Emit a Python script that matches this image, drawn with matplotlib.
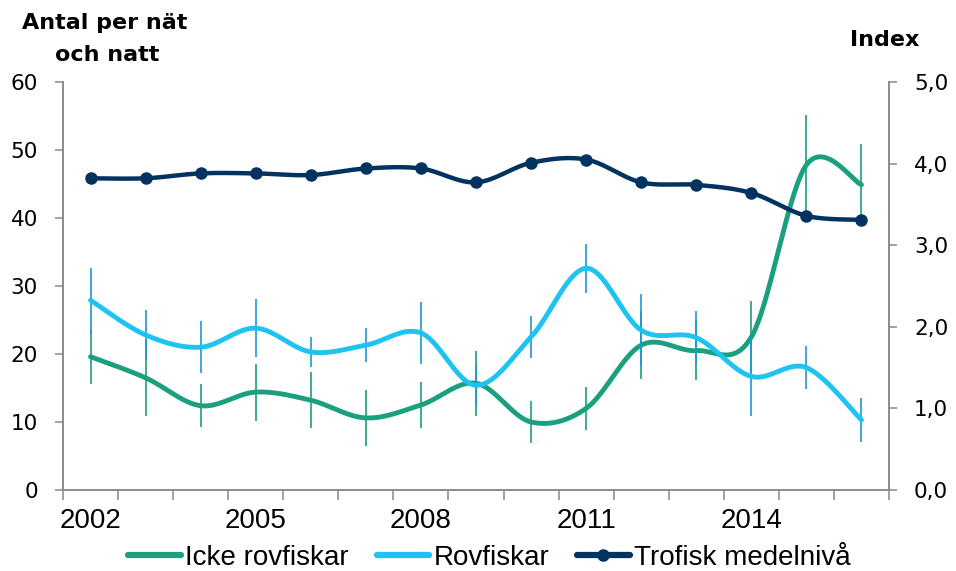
import matplotlib
matplotlib.use('Agg')
import matplotlib.pyplot as plt
from matplotlib.lines import Line2D
from matplotlib.ticker import FixedLocator, FuncFormatter
import numpy as np


# Data
years = [2002, 2003, 2004, 2005, 2006, 2007, 2008, 2009, 2010, 2011, 2012, 2013, 2014, 2015, 2016]
icke_rov = [19.6, 16.5, 12.4, 14.4, 13.2, 10.6, 12.5, 15.7, 10.0, 12.0, 21.3, 20.5, 22.5, 47.8, 44.9]
icke_rov_err = [4.0, 5.6, 3.2, 4.2, 4.1, 4.1, 3.4, 4.8, 3.1, 3.2, 5.0, 4.3, 5.3, 7.4, 6.0]
rov = [27.9, 22.8, 21.0, 23.8, 20.3, 21.3, 23.1, 15.4, 22.5, 32.6, 23.5, 22.4, 16.7, 18.0, 10.3]
rov_err = [4.8, 3.7, 3.8, 4.3, 2.2, 2.5, 4.5, 3.0, 3.1, 3.6, 5.3, 3.9, 5.8, 3.2, 3.2]
trofisk = [3.82, 3.82, 3.88, 3.88, 3.86, 3.94, 3.94, 3.77, 4.01, 4.05, 3.77, 3.74, 3.64, 3.36, 3.31]
year_labels = ['2002', '2005', '2008', '2011', '2014']

GREEN = '#1aa07f'
GREEN_ERR = '#1a9e80'
BLUE = '#1ec3f2'
BLUE_ERR = '#1a9ad6'
NAVY = '#00335f'
GREY = '#888888'


# Excel-liknande utjämnad linje (Catmull-Rom som Bezier)
def smooth(x, y, n=40):
    x = np.asarray(x, float)
    y = np.asarray(y, float)
    P = np.column_stack([x, y])
    P = np.vstack([P[0], P, P[-1]])
    xs, ys = [], []
    t = np.linspace(0, 1, n)
    for i in range(1, len(P) - 2):
        p0, p1, p2, p3 = P[i - 1], P[i], P[i + 1], P[i + 2]
        c1 = p1 + (p2 - p0) / 6
        c2 = p2 - (p3 - p1) / 6
        b = ((1 - t) ** 3)[:, None] * p1 + (3 * (1 - t) ** 2 * t)[:, None] * c1 \
            + (3 * (1 - t) * t ** 2)[:, None] * c2 + (t ** 3)[:, None] * p2
        xs.extend(b[:, 0])
        ys.extend(b[:, 1])
    return np.array(xs), np.array(ys)


fig = plt.figure(figsize=(9.56, 5.71), dpi=100)
ax = fig.add_axes([63 / 956, 1 - 490 / 571, (889 - 63) / 956, (490 - 82) / 571])
ax2 = ax.twinx()

xpos = np.arange(len(years))

# Icke rovfiskar
ax.errorbar(xpos, icke_rov, yerr=icke_rov_err, fmt='none', ecolor=GREEN_ERR, elinewidth=1.2, capsize=0, zorder=2)
sx, sy = smooth(xpos, icke_rov)
ax.plot(sx, sy, color=GREEN, lw=3.5, solid_capstyle='round', zorder=3)

# Rovfiskar
ax.errorbar(xpos, rov, yerr=rov_err, fmt='none', ecolor=BLUE_ERR, elinewidth=1.2, capsize=0, zorder=4)
sx, sy = smooth(xpos, rov)
ax.plot(sx, sy, color=BLUE, lw=3.5, solid_capstyle='round', zorder=5)

# Trofisk medelnivå (höger axel)
sx, sy = smooth(xpos, trofisk)
ax2.plot(sx, sy, color=NAVY, lw=3.2, solid_capstyle='round', zorder=3)
ax2.plot(xpos, trofisk, 'o', color=NAVY, ms=8, zorder=4)

ax.set_xlim(-0.5, len(years) - 0.5)
ax.set_ylim(0, 60)
ax2.set_ylim(0, 5)
ax.set_yticks(np.arange(0, 61, 10))
ax2.set_yticks(np.arange(0, 5.1, 1))
ax2.yaxis.set_major_formatter(FuncFormatter(lambda v, p: f'{v:.1f}'.replace('.', ',')))

ax.xaxis.set_major_locator(FixedLocator([0, 3, 6, 9, 12]))
ax.set_xticklabels(year_labels)
ax.xaxis.set_minor_locator(FixedLocator(np.arange(-0.5, len(years), 1)))
ax.tick_params(axis='x', which='major', length=0, pad=13, labelsize=20)
ax.tick_params(axis='x', which='minor', length=7, width=1.1, color=GREY, direction='out')
for lab in ax.get_xticklabels():
    lab.set_fontfamily('Liberation Sans')

ax.tick_params(axis='y', length=6, width=1.1, color=GREY, pad=12, labelsize=15.5)
ax2.tick_params(axis='y', length=6, width=1.1, color=GREY, pad=12, labelsize=15.5)

for a in (ax, ax2):
    a.spines['top'].set_visible(False)
    for s in ('left', 'right', 'bottom'):
        a.spines[s].set_color(GREY)
        a.spines[s].set_linewidth(1.1)
ax2.patch.set_visible(False)

# Axeltitlar
fig.text(105 / 956, 1 - 29 / 571, 'Antal per nät', ha='center', va='baseline', fontsize=16, fontweight='bold')
fig.text(107 / 956, 1 - 61 / 571, 'och natt', ha='center', va='baseline', fontsize=16, fontweight='bold')
fig.text(885 / 956, 1 - 46 / 571, 'Index', ha='center', va='baseline', fontsize=16, fontweight='bold')

handles = [Line2D([], [], color=GREEN, lw=4.5, solid_capstyle='round'),
           Line2D([], [], color=BLUE, lw=4.5, solid_capstyle='round'),
           Line2D([], [], color=NAVY, lw=4.5, marker='o', ms=8, solid_capstyle='round')]
labels = ['Icke rovfiskar', 'Rovfiskar', 'Trofisk medelnivå']
fig.legend(handles, labels, loc='center', bbox_to_anchor=(0.512, 1 - 558 / 571), ncol=3, frameon=False,
           prop={'family': 'Liberation Sans', 'size': 20}, handlelength=1.9, handletextpad=0.15,
           columnspacing=1.0, borderpad=0, borderaxespad=0)

fig.savefig('out.png', dpi=100)
